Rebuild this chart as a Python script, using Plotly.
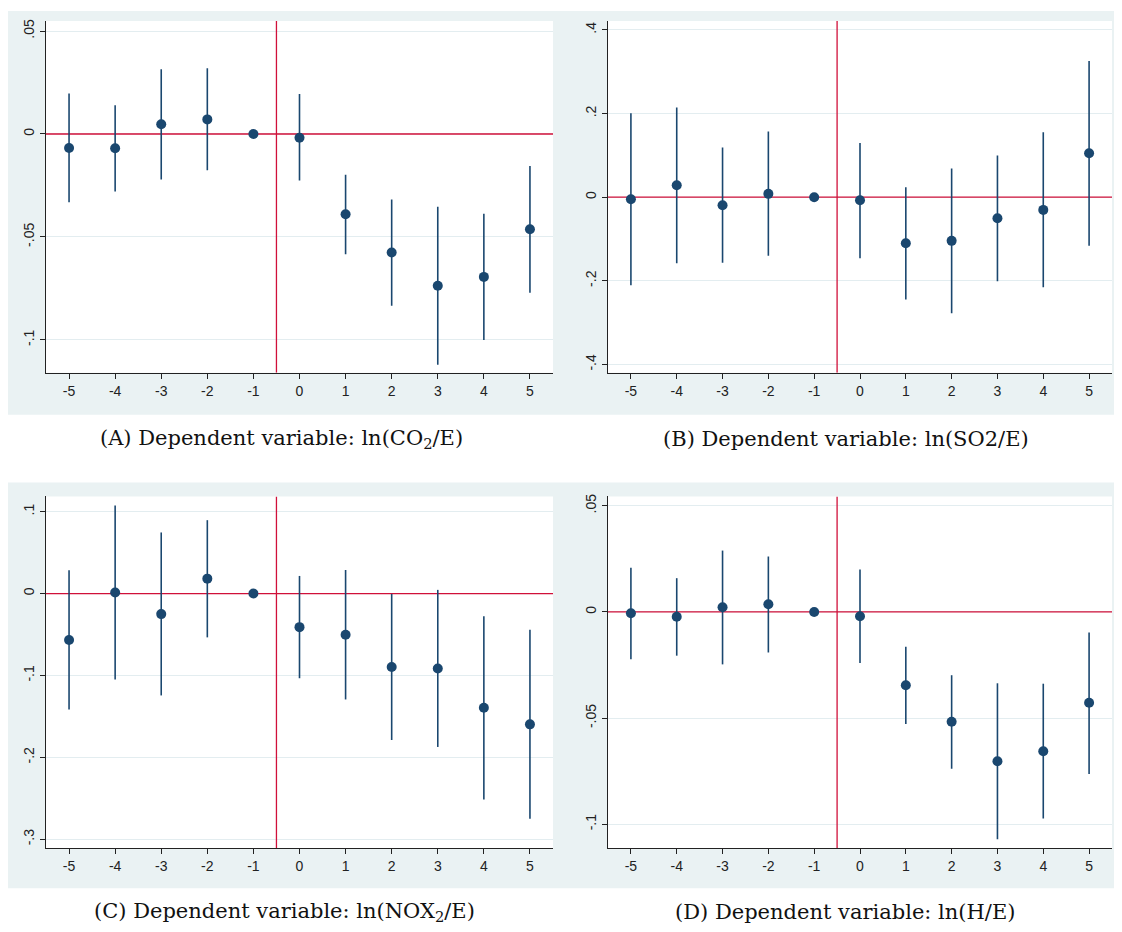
import plotly.graph_objects as go

# ---------------- data ----------------
periods = [-5, -4, -3, -2, -1, 0, 1, 2, 3, 4, 5]

a_est = [-0.0068, -0.0069, 0.0047, 0.0071, 0.0, -0.0018, -0.0390, -0.0576, -0.0737, -0.0694, -0.0463]
a_hi  = [0.0197, 0.0140, 0.0315, 0.0319, 0.0, 0.0194, -0.0198, -0.0318, -0.0353, -0.0387, -0.0155]
a_lo  = [-0.0332, -0.0279, -0.0221, -0.0176, 0.0, -0.0226, -0.0584, -0.0834, -0.1121, -0.1000, -0.0771]

b_est = [-0.0048, 0.0287, -0.0191, 0.0080, 0.0, -0.0072, -0.1100, -0.1044, -0.0502, -0.0303, 0.1052]
b_hi  = [0.2008, 0.2143, 0.1187, 0.1570, 0.0, 0.1299, 0.0239, 0.0685, 0.0996, 0.1554, 0.3259]
b_lo  = [-0.2104, -0.1578, -0.1570, -0.1402, 0.0, -0.1458, -0.2446, -0.2773, -0.2008, -0.2151, -0.1163]

c_est = [-0.0567, 0.0012, -0.0251, 0.0182, 0.0, -0.0410, -0.0503, -0.0896, -0.0916, -0.1394, -0.1597]
c_hi  = [0.0284, 0.1074, 0.0746, 0.0896, 0.0, 0.0215, 0.0288, -0.0004, 0.0045, -0.0276, -0.0442]
c_lo  = [-0.1415, -0.1050, -0.1244, -0.0535, 0.0, -0.1034, -0.1293, -0.1788, -0.1873, -0.2513, -0.2748]

d_est = [-0.0006, -0.0023, 0.0022, 0.0036, 0.0, -0.0020, -0.0345, -0.0517, -0.0703, -0.0656, -0.0428]
d_hi  = [0.0208, 0.0159, 0.0289, 0.0261, 0.0, 0.0200, -0.0164, -0.0298, -0.0336, -0.0338, -0.0097]
d_lo  = [-0.0223, -0.0206, -0.0247, -0.0191, 0.0, -0.0241, -0.0528, -0.0738, -0.1070, -0.0973, -0.0763]

a_ticks = [-0.1, -0.05, 0, 0.05]
a_ticktext = ["-.1", "-.05", "0", ".05"]
b_ticks = [-0.4, -0.2, 0, 0.2, 0.4]
b_ticktext = ["-.4", "-.2", "0", ".2", ".4"]
c_ticks = [-0.3, -0.2, -0.1, 0, 0.1]
c_ticktext = ["-.3", "-.2", "-.1", "0", ".1"]
d_ticks = [-0.1, -0.05, 0, 0.05]
d_ticktext = ["-.1", "-.05", "0", ".05"]

captions = [
    "(A) Dependent variable: ln(CO<sub>2</sub>/E)",
    "(B) Dependent variable: ln(SO2/E)",
    "(C) Dependent variable: ln(NOX<sub>2</sub>/E)",
    "(D) Dependent variable: ln(H/E)",
]

# event-time reference and zero reference
event_ref = -0.5
zero_ref = 0.0
x_range = [-5.5, 5.5]

# ---------------- layout helpers ----------------
# The html page has an 8px body margin; size the figure to fit the window exactly
OFF = 8
W, H = 1122 - OFF, 932 - OFF
def px(x):
    return max(0.0, (x - OFF) / W)
def py(y):
    return min(1.0, 1 - (y - OFF) / H)

NAVY = "#1a476f"
RED = "#d0103a"
BG = "#eaf2f3"
GRID = "#e3edf0"

panels = [
    dict(est=a_est, hi=a_hi, lo=a_lo, ticks=a_ticks, tt=a_ticktext, rng=[-0.116, 0.0549],
         x=(46, 553), y=(18, 371)),
    dict(est=b_est, hi=b_hi, lo=b_lo, ticks=b_ticks, tt=b_ticktext, rng=[-0.42, 0.4215],
         x=(608, 1112), y=(18, 371)),
    dict(est=c_est, hi=c_hi, lo=c_lo, ticks=c_ticks, tt=c_ticktext, rng=[-0.311, 0.1186],
         x=(46, 553), y=(495, 848)),
    dict(est=d_est, hi=d_hi, lo=d_lo, ticks=d_ticks, tt=d_ticktext, rng=[-0.1113, 0.0544],
         x=(608, 1112), y=(495, 848)),
]

fig = go.Figure()
shapes = []
# panel backgrounds (paper level, beneath everything)
shapes.append(dict(type="rect", xref="paper", yref="paper", x0=px(5), x1=px(1122),
                   y0=py(413), y1=py(3), fillcolor=BG, line=dict(width=0), layer="below"))
shapes.append(dict(type="rect", xref="paper", yref="paper", x0=px(5), x1=px(1122),
                   y0=py(888), y1=py(481), fillcolor=BG, line=dict(width=0), layer="below"))

for i, p in enumerate(panels, start=1):
    xa = "x" if i == 1 else f"x{i}"
    ya = "y" if i == 1 else f"y{i}"
    # white plot region
    shapes.append(dict(type="rect", xref=f"{xa} domain", yref=f"{ya} domain", x0=0, x1=1, y0=0, y1=1,
                       fillcolor="white", line=dict(width=0), layer="below"))
    # red reference lines
    fig.add_trace(go.Scatter(x=x_range, y=[zero_ref, zero_ref], mode="lines", xaxis=xa, yaxis=ya,
                             showlegend=False, hoverinfo="skip", line=dict(color=RED, width=1.3)))
    fig.add_trace(go.Scatter(x=[event_ref, event_ref], y=p["rng"], mode="lines", xaxis=xa, yaxis=ya,
                             showlegend=False, hoverinfo="skip", line=dict(color=RED, width=1.3)))
    up = [h - e for h, e in zip(p["hi"], p["est"])]
    dn = [e - l for e, l in zip(p["est"], p["lo"])]
    fig.add_trace(go.Scatter(
        x=periods, y=p["est"], mode="markers", xaxis=xa, yaxis=ya, showlegend=False,
        marker=dict(color=NAVY, size=10),
        error_y=dict(type="data", symmetric=False, array=up, arrayminus=dn,
                     width=0, thickness=1.6, color=NAVY),
    ))
    axkey = "xaxis" if i == 1 else f"xaxis{i}"
    aykey = "yaxis" if i == 1 else f"yaxis{i}"
    fig.layout[axkey] = dict(
        domain=[px(p["x"][0]), px(p["x"][1])], anchor=ya, range=x_range,
        tickvals=periods, ticktext=[str(v) for v in periods],
        showgrid=False, zeroline=False, showline=True, linecolor="#222", linewidth=1,
        ticks="outside", ticklen=5, tickcolor="#222",
        tickfont=dict(family="Liberation Sans, Arial", size=14, color="#222"),
    )
    fig.layout[aykey] = dict(
        domain=[py(p["y"][1]), py(p["y"][0])], anchor=xa, range=p["rng"],
        tickvals=p["ticks"], ticktext=p["tt"], tickangle=-90,
        showgrid=True, gridcolor=GRID, gridwidth=1,
        zeroline=False, showline=True, linecolor="#222", linewidth=1,
        ticks="outside", ticklen=5, tickcolor="#222",
        tickfont=dict(family="Liberation Sans, Arial", size=14, color="#222"),
    )

cap_pos = [(281, 437), (846, 437), (284, 912), (845, 912)]
annotations = []
for text, (cx, cy) in zip(captions, cap_pos):
    annotations.append(dict(text=text, xref="paper", yref="paper", x=px(cx), y=py(cy),
                            showarrow=False, xanchor="center", yanchor="middle",
                            font=dict(family="DejaVu Serif", size=21, color="#111")))

fig.update_layout(
    width=W, height=H, margin=dict(l=0, r=0, t=0, b=0),
    paper_bgcolor="white", plot_bgcolor="white",
    shapes=shapes, annotations=annotations,
)

fig.write_html("out.html")
